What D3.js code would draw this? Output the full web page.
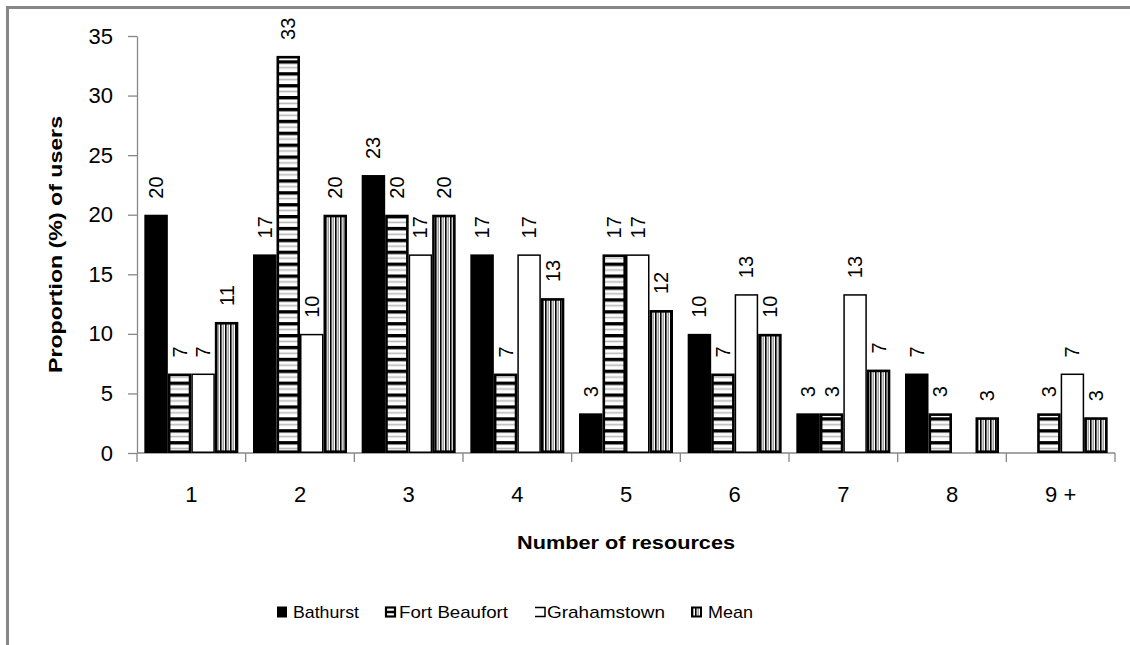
<!DOCTYPE html>
<html>
<head>
<meta charset="utf-8">
<script src="https://cdn.jsdelivr.net/npm/d3@7/dist/d3.min.js"></script>
<style>
  html, body { margin: 0; padding: 0; background: #fff; }
  svg { display: block; }
  text { font-family: "Liberation Sans", Arial, sans-serif; }
</style>
</head>
<body>
<svg id="chart" width="1130" height="645"></svg>
<script>
// ---------- data ----------
const categories = ["1", "2", "3", "4", "5", "6", "7", "8", "9 +"];
const seriesNames = ["Bathurst", "Fort Beaufort", "Grahamstown", "Mean"];
const bathurst     = [20, 16.67, 23.33, 16.67, 3.33, 10, 3.33, 6.67, null];
const fortBeaufort = [6.67, 33.33, 20, 6.67, 16.67, 6.67, 3.33, 3.33, 3.33];
const grahamstown  = [6.67, 10, 16.67, 16.67, 16.67, 13.33, 13.33, null, 6.67];
const meanValues   = [11, 20, 20, 13, 12, 10, 7, 3, 3];
const yTicks = [0, 5, 10, 15, 20, 25, 30, 35];
const xTitle = "Number of resources";
const yTitle = "Proportion (%) of users";

const seriesValues = [bathurst, fortBeaufort, grahamstown, meanValues];

// ---------- layout ----------
const svg = d3.select("#chart");
const plot = { left: 137, right: 1115, top: 36, bottom: 453 };

const defs = svg.append("defs");
// Fort Beaufort: horizontal stripes
const pH = defs.append("pattern").attr("id", "hstripe").attr("patternUnits", "userSpaceOnUse")
  .attr("width", 10).attr("height", 11.9).attr("y", plot.bottom);
pH.append("rect").attr("width", 10).attr("height", 11.9).attr("fill", "#fff");
pH.append("rect").attr("y", 0).attr("width", 10).attr("height", 3.4).attr("fill", "#000");
pH.append("rect").attr("y", 6.6).attr("width", 10).attr("height", 1.6).attr("fill", "#b8b8b8");
// Mean: vertical stripes
const pV = defs.append("pattern").attr("id", "vstripe").attr("patternUnits", "userSpaceOnUse")
  .attr("width", 5).attr("height", 10);
pV.append("rect").attr("width", 5).attr("height", 10).attr("fill", "#fff");
pV.append("rect").attr("x", 0).attr("width", 1.6).attr("height", 10).attr("fill", "#000");
pV.append("rect").attr("x", 2.6).attr("width", 1.2).attr("height", 10).attr("fill", "#8a8a8a");

const styles = [
  { fill: "#000", stroke: "#000", sw: 0 },
  { fill: "url(#hstripe)", stroke: "#000", sw: 2.6 },
  { fill: "#fff", stroke: "#000", sw: 1.5 },
  { fill: "url(#vstripe)", stroke: "#000", sw: 2.6 }
];

// outer frame
svg.append("rect").attr("x", 7.5).attr("y", 7.5).attr("width", 1300).attr("height", 800)
  .attr("fill", "#fff").attr("stroke", "#878787").attr("stroke-width", 3);

const x0 = d3.scaleBand().domain(categories).range([plot.left, plot.right])
  .paddingInner(0.135).paddingOuter(0.0675);
const x1 = d3.scaleBand().domain(seriesNames).range([0, x0.bandwidth()]);
const y = d3.scaleLinear().domain([0, 35]).range([plot.bottom, plot.top]);

// y axis
const yAxis = svg.append("g").attr("transform", `translate(${plot.left},0)`)
  .call(d3.axisLeft(y).tickValues(yTicks).tickSize(9).tickPadding(15).tickSizeOuter(0));
yAxis.select(".domain").attr("stroke", "#878787").attr("stroke-width", 1.3);
yAxis.selectAll(".tick line").attr("stroke", "#878787").attr("stroke-width", 1.3);
yAxis.selectAll(".tick text").attr("font-family", "Liberation Sans, Arial, sans-serif")
  .attr("font-size", 22).attr("fill", "#000");

// x axis
const xAxis = svg.append("g").attr("transform", `translate(0,${plot.bottom})`);
xAxis.append("line").attr("x1", plot.left).attr("x2", plot.right)
  .attr("stroke", "#878787").attr("stroke-width", 1.3);
const boundaries = d3.range(categories.length + 1).map(i => plot.left + i * x0.step());
xAxis.selectAll("line.tb").data(boundaries).join("line").attr("class", "tb")
  .attr("x1", d => d).attr("x2", d => d).attr("y1", 0).attr("y2", 9)
  .attr("stroke", "#878787").attr("stroke-width", 1.3);
xAxis.selectAll("text.xl").data(categories).join("text").attr("class", "xl")
  .attr("x", d => x0(d) + x0.bandwidth() / 2).attr("y", 49)
  .attr("text-anchor", "middle").attr("font-size", 22).attr("fill", "#000").text(d => d);

// bars
const fmt = d3.format(".0f");
seriesNames.forEach((s, si) => {
  const data = categories.map((c, ci) => ({ c, v: seriesValues[si][ci] })).filter(d => d.v != null && d.v > 0);
  const st = styles[si];
  const inset = st.sw / 2;
  svg.append("g").selectAll("rect").data(data).join("rect")
    .attr("x", d => x0(d.c) + x1(s) + (si === 0 ? 0 : inset))
    .attr("y", d => y(d.v) + inset)
    .attr("width", x1.bandwidth() - (si === 0 ? 0 : inset * 2))
    .attr("height", d => y(0) - y(d.v) - inset * 2)
    .attr("fill", st.fill).attr("stroke", st.sw ? st.stroke : "none").attr("stroke-width", st.sw);
  svg.append("g").selectAll("text").data(data).join("text")
    .attr("transform", d => `translate(${x0(d.c) + x1(s) + x1.bandwidth() / 2},${y(d.v) - 16}) rotate(-90)`)
    .attr("text-anchor", "start").attr("dominant-baseline", "central")
    .attr("font-size", 20).attr("fill", "#000").text(d => fmt(d.v));
});

// axis titles
svg.append("text").attr("x", (plot.left + plot.right) / 2).attr("y", 549)
  .attr("text-anchor", "middle").attr("font-weight", "bold").attr("font-size", 19)
  .attr("textLength", 218).attr("lengthAdjust", "spacingAndGlyphs").text(xTitle);
svg.append("text").attr("transform", `translate(62,${(plot.top + plot.bottom) / 2}) rotate(-90)`)
  .attr("text-anchor", "middle").attr("font-weight", "bold").attr("font-size", 19)
  .attr("textLength", 257).attr("lengthAdjust", "spacingAndGlyphs").text(yTitle);

// legend
const legendX = [277, 385, 535, 691];
const legendTextX = [293, 399, 547, 708];
const legendTextW = [66, 109, 118, 45];
const lg = svg.append("g");
seriesNames.forEach((s, i) => {
  const gx = legendX[i], gy = 606.5, sz = 11;
  if (i === 0) {
    lg.append("rect").attr("x", gx).attr("y", gy).attr("width", sz - 1).attr("height", sz).attr("fill", "#000");
  } else if (i === 1) {
    lg.append("rect").attr("x", gx + 1).attr("y", gy + 1).attr("width", sz - 2).attr("height", sz - 2)
      .attr("fill", "#fff").attr("stroke", "#000").attr("stroke-width", 2.2);
    lg.append("line").attr("x1", gx + 1).attr("x2", gx + sz - 1).attr("y1", gy + sz / 2).attr("y2", gy + sz / 2)
      .attr("stroke", "#000").attr("stroke-width", 2.5);
  } else if (i === 2) {
    lg.append("path").attr("d", `M${gx},${gy + 1}H${gx + sz - 1}V${gy + sz - 1}H${gx}`)
      .attr("fill", "none").attr("stroke", "#000").attr("stroke-width", 1.5);
  } else {
    lg.append("rect").attr("x", gx + 1).attr("y", gy + 1).attr("width", sz - 2).attr("height", sz - 2)
      .attr("fill", "url(#vstripe)").attr("stroke", "#000").attr("stroke-width", 2);
  }
  lg.append("text").attr("x", legendTextX[i]).attr("y", 618).attr("font-size", 17)
    .attr("textLength", legendTextW[i]).attr("lengthAdjust", "spacingAndGlyphs")
    .attr("fill", "#000").text(s);
});
</script>
</body>
</html>
